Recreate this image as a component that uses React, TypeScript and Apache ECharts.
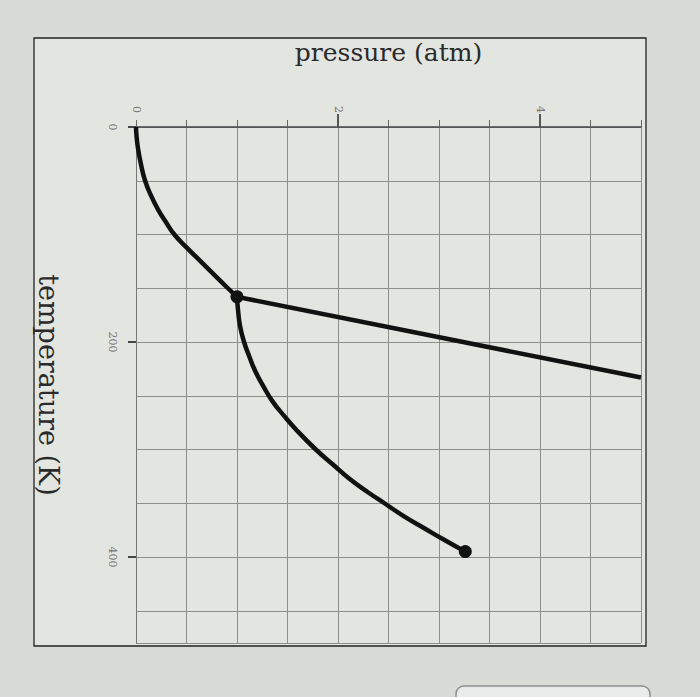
import React, { useEffect, useRef } from "react";
import * as echarts from "echarts";

const xTickLabels = [0, 2, 4];
const yTickLabels = [0, 200, 400];
const sublimation = [
  [0, 0], [0.005, 8], [0.02, 20], [0.05, 35], [0.09, 50], [0.15, 64], [0.22, 77], [0.3, 89], [0.38, 100],
  [0.5, 112], [0.64, 125], [0.78, 138], [0.91, 150], [1.0, 158],
];
const melting = [
  [1.0, 158], [5.0, 233],
];
const vaporization = [
  [1.0, 158], [1.01, 170], [1.03, 185], [1.07, 200], [1.12, 213], [1.18, 227], [1.26, 241], [1.35, 255],
  [1.46, 268], [1.6, 283], [1.78, 300], [1.95, 314], [2.11, 327], [2.3, 340], [2.46, 350], [2.65, 362],
  [2.85, 373], [3.05, 384], [3.26, 395],
];
const specialPoints = [
  [1.0, 158], [3.26, 395],
];

export default function App() {
  const ref = useRef<HTMLDivElement>(null);
  useEffect(() => {
    if (!ref.current) return;
    const chart = echarts.init(ref.current, null, { renderer: "svg" });
    const font = "'DejaVu Serif', serif";
    const lineStyle = { color: "#111", width: 4.5 };
    chart.setOption({
      animation: false,
      backgroundColor: "#d9dbd7",
      graphic: [
        {
          type: "rect",
          z: -10,
          shape: { x: 34, y: 38, width: 612, height: 608 },
          style: { fill: "#e3e5e1", stroke: "#222", lineWidth: 1.3 },
        },
        {
          type: "rect",
          z: -10,
          shape: { x: 456, y: 686, width: 194, height: 30, r: 8 },
          style: { fill: "#e9ecea", stroke: "#8a8f8d", lineWidth: 1.5 },
        },
      ],
      grid: { left: 136, top: 127, right: 59, bottom: 54 },
      xAxis: [
        {
          type: "value",
          position: "top",
          min: 0,
          max: 5,
          interval: 0.5,
          name: "pressure (atm)",
          nameLocation: "middle",
          nameGap: 62,
          nameTextStyle: { fontFamily: font, fontSize: 25, color: "#2a2a2a" },
          axisLine: { show: true, lineStyle: { color: "#444", width: 1.5 } },
          axisTick: { show: true, length: 7, lineStyle: { color: "#666", width: 1 } },
          axisLabel: {
            customValues: xTickLabels,
            rotate: -90,
            margin: 14,
            fontFamily: font,
            fontSize: 11,
            color: "#777",
            formatter: (v: number) => String(v),
          },
          splitLine: { show: true, lineStyle: { color: "#8d8f8c", width: 1 } },
        },
        {
          type: "value",
          position: "top",
          min: 0,
          max: 5,
          axisLine: { show: false },
          axisTick: { show: true, customValues: [2, 4], length: 13, lineStyle: { color: "#555", width: 2 } },
          axisLabel: { show: false },
          splitLine: { show: false },
        },
      ],
      yAxis: [
        {
          type: "value",
          inverse: true,
          min: 0,
          max: 480,
          interval: 50,
          name: "temperature (K)",
          nameLocation: "middle",
          nameGap: 74,
          nameRotate: -90,
          nameTextStyle: { fontFamily: font, fontSize: 27, color: "#2a2a2a" },
          axisLine: { show: true, lineStyle: { color: "#777", width: 1 } },
          axisTick: { show: false },
          axisLabel: { show: false },
          splitLine: { show: true, lineStyle: { color: "#8d8f8c", width: 1 } },
        },
        {
          type: "value",
          position: "left",
          inverse: true,
          min: 0,
          max: 480,
          axisLine: { show: false },
          axisTick: { show: true, customValues: yTickLabels, length: 8, lineStyle: { color: "#444", width: 2 } },
          axisLabel: {
            customValues: yTickLabels,
            rotate: -90,
            margin: 18,
            fontFamily: font,
            fontSize: 11,
            color: "#777",
            formatter: (v: number) => String(v),
          },
          splitLine: { show: false },
        },
      ],
      series: [
        { type: "line", data: sublimation, smooth: 0.5, showSymbol: false, lineStyle, z: 5 },
        { type: "line", data: melting, showSymbol: false, lineStyle, z: 5 },
        { type: "line", data: vaporization, smooth: 0.5, showSymbol: false, lineStyle, z: 5 },
        {
          type: "scatter",
          data: specialPoints,
          symbolSize: 13,
          itemStyle: { color: "#111", opacity: 1 },
          z: 6,
        },
      ],
    });
    return () => chart.dispose();
  }, []);
  return (
    <div
      ref={ref}
      style={{ position: "fixed", left: 0, top: 0, width: 700, height: 697 }}
    />
  );
}
